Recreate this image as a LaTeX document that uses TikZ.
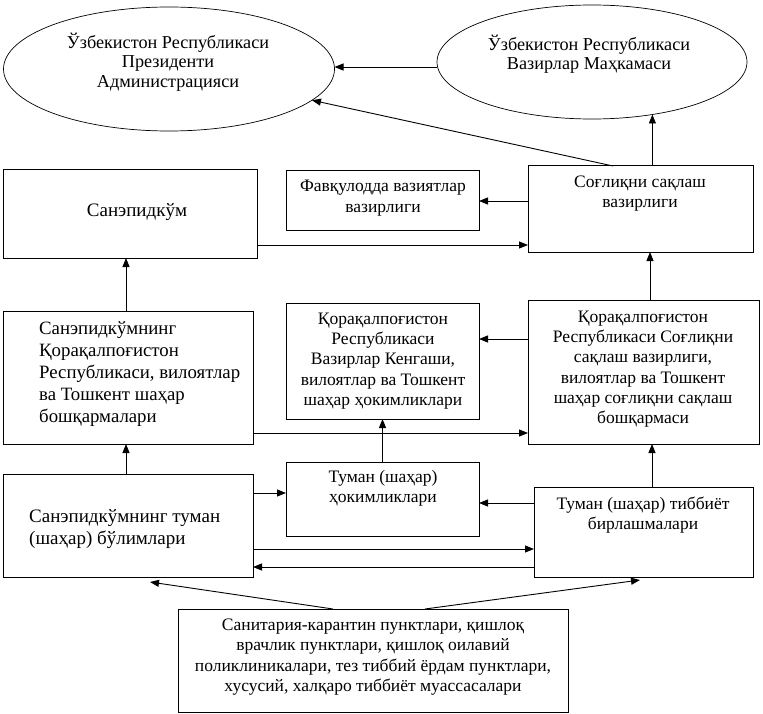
\documentclass[tikz,border=0pt]{standalone}
\usepackage{fontspec}
\setmainfont{Liberation Serif}
\usetikzlibrary{shapes.geometric,arrows.meta,calc}
\begin{document}
\begin{tikzpicture}[x=1pt,y=-1pt,
  box/.style={draw, line width=1pt, rectangle, inner sep=0pt, outer sep=0pt},
  oval/.style={draw, line width=0.7pt, ellipse, inner sep=0pt, outer sep=0pt},
  txt/.style={align=center, font=\fontsize{17.5}{20.3}\selectfont, inner sep=0pt},
  txtL/.style={align=left, font=\fontsize{19}{22}\selectfont, inner sep=0pt, anchor=west},
  arr/.style={-{Triangle[length=9pt,width=7pt]}, line width=0.9pt}]
\useasboundingbox (0,0) rectangle (763,714);

% ellipses
\node[oval, minimum width=331pt, minimum height=124pt] (pres) at (169,69) {};
\node[oval, minimum width=310pt, minimum height=114pt] (vaz) at (592,62) {};
\node[txt, font=\fontsize{18.2}{19.5}\selectfont] (tpres) at (168,62) {Ўзбекистон Республикаси\\Президенти\\Администрацияси};
\node[txt, font=\fontsize{18.2}{19.5}\selectfont] (tvaz) at (589,54) {Ўзбекистон Республикаси\\Вазирлар Маҳкамаси};

% row 1
\node[box, minimum width=254pt, minimum height=88pt] (san) at (130,214) {};
\node[box, minimum width=193pt, minimum height=60pt] (fav) at (382.5,201) {};
\node[box, minimum width=225pt, minimum height=86pt] (sog) at (640.5,209) {};
\node[txt, font=\fontsize{19}{22}\selectfont] (tsan) at (137,212) {Санэпидкўм};
\node[txt] (tfav) at (383,198) {Фавқулодда вазиятлар\\вазирлиги};
\node[txt] (tsog) at (640,193.5) {Соғлиқни сақлаш\\вазирлиги};

% row 2
\node[box, minimum width=250pt, minimum height=133pt] (sanreg) at (128,377.5) {};
\node[box, minimum width=193pt, minimum height=116pt] (ken) at (382.5,361) {};
\node[box, minimum width=231pt, minimum height=144pt] (sogreg) at (643.5,372) {};
\node[txtL, font=\fontsize{18.8}{22}\selectfont] (tsanreg) at (39,374) {Санэпидкўмнинг\\Қорақалпоғистон\\Республикаси, вилоятлар\\ва Тошкент шаҳар\\бошқармалари};
\node[txt] (tken) at (383,361) {Қорақалпоғистон\\Республикаси\\Вазирлар Кенгаши,\\вилоятлар ва Тошкент\\шаҳар ҳокимликлари};
\node[txt] (tsogreg) at (643,369) {Қорақалпоғистон\\Республикаси Соғлиқни\\сақлаш вазирлиги,\\вилоятлар ва Тошкент\\шаҳар соғлиқни сақлаш\\бошқармаси};

% row 3
\node[box, minimum width=250pt, minimum height=103pt] (santum) at (128,525.5) {};
\node[box, minimum width=193pt, minimum height=74pt] (hok) at (382.5,499) {};
\node[box, minimum width=219pt, minimum height=90pt] (tib) at (643.5,532) {};
\node[txtL] (tsantum) at (29,529) {Санэпидкўмнинг туман\\(шаҳар) бўлимлари};
\node[txt] (thok) at (383,488) {Туман (шаҳар)\\ҳокимликлари};
\node[txt] (ttib) at (643,515) {Туман (шаҳар) тиббиёт\\бирлашмалари};

% bottom
\node[box, minimum width=390pt, minimum height=103pt] (bot) at (373,660.5) {};
\node[txt] (tbot) at (373,657) {Санитария-карантин пунктлари, қишлоқ\\врачлик пунктлари, қишлоқ оилавий\\поликлиникалари, тез тиббий ёрдам пунктлари,\\хусусий, халқаро тиббиёт муассасалари};

% connectors
\draw[arr] (vaz.west |- 0,67) -- (pres.east |- 0,67);
\draw[arr] (613,0 |- sog.north) -- (pres);
\draw[arr] (sog.north -| vaz.-41.9) -- (vaz.-41.9);
\draw[arr] (sog.west |- fav.east) -- (fav.east);
\draw[arr] (san.east |- 0,245) -- (sog.west |- 0,245);
\draw[arr] (sogreg.north -| 650,0) -- (sog.south -| 650,0);
\draw[arr] (sanreg.north -| 126,0) -- (san.south -| 126,0);
\draw[arr] (sogreg.west |- 0,339) -- (ken.east |- 0,339);
\draw[arr] (sanreg.east |- 0,433) -- (sogreg.west |- 0,433);
\draw[arr] (hok.north) -- (ken.south);
\draw[arr] (tib.north -| 652,0) -- (sogreg.south -| 652,0);
\draw[arr] (santum.north -| 126,0) -- (sanreg.south -| 126,0);
\draw[arr] (santum.east |- 0,493) -- (hok.west |- 0,493);
\draw[arr] (tib.west |- 0,503) -- (hok.east |- 0,503);
\draw[arr] (santum.east |- 0,549) -- (tib.west |- 0,549);
\draw[arr] (tib.west |- 0,567) -- (santum.east |- 0,567);
\draw[arr] (333,0 |- bot.north) -- ($(santum.south -| 150,0)+(0,5)$);
\draw[arr] (425,0 |- bot.north) -- ($(tib.south -| 640,0)+(0,3)$);
\end{tikzpicture}
\end{document}
